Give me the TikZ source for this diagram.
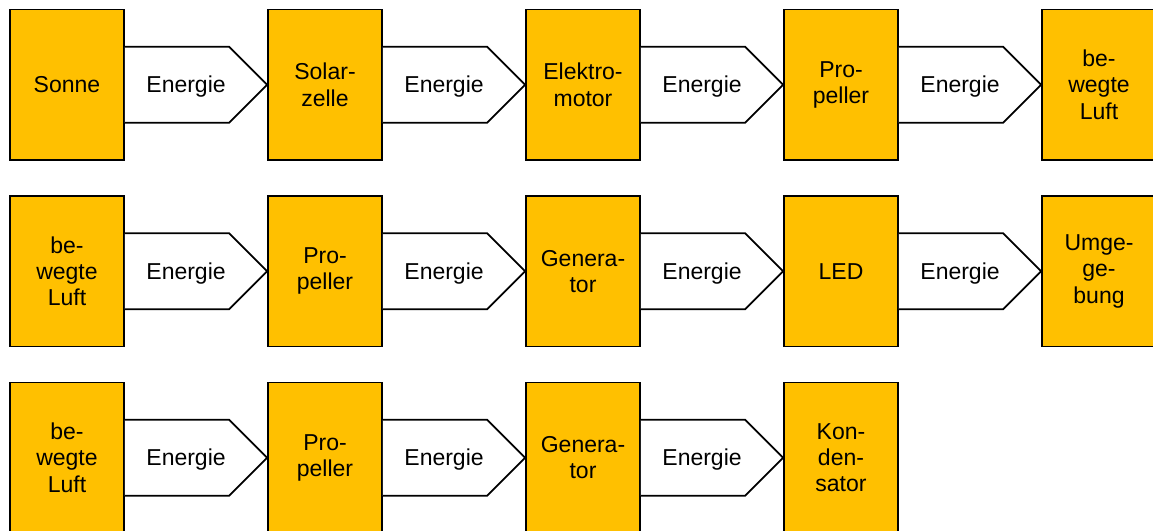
\documentclass[tikz,border=0pt]{standalone}
\usepackage{fontspec}
\setmainfont{Liberation Sans}
\usetikzlibrary{calc}
\definecolor{boxorange}{HTML}{FFC000}
\tikzset{
  stage/.style={draw=black, fill=boxorange, line width=1.8pt, minimum width=114pt, minimum height=150.5pt,
    inner sep=0pt, align=center, font=\fontsize{23}{26.3}\selectfont},
  flow/.style={draw=black, fill=white, line width=1.8pt, line join=miter},
  flowlabel/.style={font=\fontsize{23}{26.3}\selectfont, inner sep=0pt, anchor=base}
}
\newcommand{\energyarrow}[2]{%
  \draw[flow] ($(#1.east)+(0,-38)$) -- ($(#2.west)+(-38,-38)$) -- (#2.west)
     -- ($(#2.west)+(-38,38)$) -- ($(#1.east)+(0,38)$);
  \node[flowlabel] at ($($(#1.east)!0.43!(#2.west)$)+(0,8)$) {Energie};
}
\begin{document}
\begin{tikzpicture}[x=1pt,y=-1pt]
\useasboundingbox (0,0) rectangle (1153,530);
\clip (0,0) rectangle (1153,530);
% row 1
\node[stage] (a1) at (67,84.75) {Sonne};
\node[stage] (a2) at (325,84.75) {Solar-\\zelle};
\node[stage] (a3) at (583,84.75) {Elektro-\\motor};
\node[stage] (a4) at (841,84.75) {Pro-\\peller};
\node[stage] (a5) at (1099,84.75) {be-\\wegte\\Luft};
% row 2
\node[stage] (b1) at (67,271.25) {be-\\wegte\\Luft};
\node[stage] (b2) at (325,271.25) {Pro-\\peller};
\node[stage] (b3) at (583,271.25) {Genera-\\tor};
\node[stage] (b4) at (841,271.25) {LED};
\node[stage] (b5) at (1099,271.25) {Umge-\\ge-\\bung};
% row 3
\node[stage] (c1) at (67,457.75) {be-\\wegte\\Luft};
\node[stage] (c2) at (325,457.75) {Pro-\\peller};
\node[stage] (c3) at (583,457.75) {Genera-\\tor};
\node[stage] (c4) at (841,457.75) {Kon-\\den-\\sator};
% arrows
\energyarrow{a1}{a2}
\energyarrow{a2}{a3}
\energyarrow{a3}{a4}
\energyarrow{a4}{a5}
\energyarrow{b1}{b2}
\energyarrow{b2}{b3}
\energyarrow{b3}{b4}
\energyarrow{b4}{b5}
\energyarrow{c1}{c2}
\energyarrow{c2}{c3}
\energyarrow{c3}{c4}
\end{tikzpicture}
\end{document}
